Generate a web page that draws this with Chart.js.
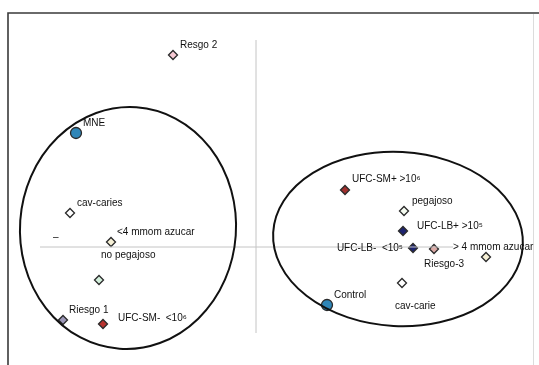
<!DOCTYPE html>
<html>
<head>
<meta charset="utf-8">
<script src="https://cdn.jsdelivr.net/npm/chart.js@4/dist/chart.umd.min.js"></script>
<style>
  html, body { margin: 0; padding: 0; background: #fff; }
  #wrap { position: relative; width: 539px; height: 365px; }
</style>
</head>
<body>
<div id="wrap"><canvas id="c" width="539" height="365"></canvas></div>
<script>
const categories = [
  "Resgo 2", "MNE", "cav-caries", "<4 mmom azucar", "no pegajoso",
  "Riesgo 1", "UFC-SM-  <10\u2076", "UFC-SM+ >10\u2076", "pegajoso",
  "UFC-LB+ >10\u2075", "UFC-LB-  <10\u2075", "Riesgo-3", "> 4 mmom azucar",
  "cav-carie", "Control"
];
const dim1 = [-0.83, -1.80, -1.86, -1.45, -1.57, -1.93, -1.53, 0.89, 1.48, 1.47, 1.57, 1.78, 2.30, 1.46, 0.71];
const dim2 = [ 1.92,  1.14,  0.34,  0.05, -0.33, -0.73, -0.77, 0.57, 0.36, 0.16, -0.01, -0.02, -0.10, -0.36, -0.58];

// axis reference lines (dim1 extent of horizontal axis, dim2 extent of vertical axis)
const axisXRange = [-2.16, 1.97];
const axisYRange = [-0.86, 2.07];

// group ellipses: centre, semi-axes, tilt (degrees)
const ellipseCx = [-1.28, 1.42];
const ellipseCy = [0.19, 0.08];
const ellipseRx = [1.08, 1.25];
const ellipseRy = [1.21, 0.87];
const ellipseTilt = [4, 3];

// ---- Styles ----
const fills = ["#f6c9d3", "#2f86b8", "#ffffff", "#f6f0d6", "#d3f0dc", "#9d98b9", "#b8322e",
               "#a0302e", "#f4fbf0", "#1d2470", "#1d2470", "#dcaaa6", "#f6f0d6", "#ffffff", "#2f86b8"];
const shapes = ["rectRot", "circle", "rectRot", "rectRot", "rectRot", "rectRot", "rectRot",
                "rectRot", "rectRot", "rectRot", "rectRot", "rectRot", "rectRot", "rectRot", "circle"];
const radii = shapes.map(s => s === "circle" ? 5.5 : 4.5);
// label offsets in px: [dx, dy, align]
const labelOffsets = [
  [7, -10, "left"], [7, -10, "left"], [7, -10, "left"], [6, -10, "left"], [2, -25, "left"],
  [6, -10, "left"], [15, -6, "left"], [7, -11, "left"], [8, -10, "left"],
  [14, -5, "left"], [-10, 0, "right"], [-10, 15, "left"], [-33, -10, "left"],
  [-7, 23, "left"], [7, -10, "left"]
];

const points = dim1.map((x, i) => ({ x: x, y: dim2[i] }));

const framePlugin = {
  id: 'frame',
  beforeDraw(chart) {
    const ctx = chart.ctx;
    ctx.save();
    ctx.fillStyle = '#fff';
    ctx.fillRect(0, 0, chart.width, chart.height);
    ctx.strokeStyle = '#dcdcdc';
    ctx.lineWidth = 1;
    ctx.beginPath(); ctx.moveTo(533.5, 14); ctx.lineTo(533.5, 365); ctx.stroke();
    ctx.strokeStyle = '#3a3a3a';
    ctx.lineWidth = 1.6;
    ctx.beginPath();
    ctx.moveTo(8, 365); ctx.lineTo(8, 13); ctx.lineTo(539, 13);
    ctx.stroke();
    ctx.restore();
  }
};

const ellipsePlugin = {
  id: 'ellipses',
  afterDatasetsDraw(chart) {
    const ctx = chart.ctx, xs = chart.scales.x, ys = chart.scales.y;
    ctx.save();
    ctx.strokeStyle = '#111';
    ctx.lineWidth = 2;
    for (let i = 0; i < ellipseCx.length; i++) {
      const cx = xs.getPixelForValue(ellipseCx[i]);
      const cy = ys.getPixelForValue(ellipseCy[i]);
      const rx = Math.abs(xs.getPixelForValue(ellipseCx[i] + ellipseRx[i]) - cx);
      const ry = Math.abs(ys.getPixelForValue(ellipseCy[i] + ellipseRy[i]) - cy);
      ctx.beginPath();
      ctx.ellipse(cx, cy, rx, ry, ellipseTilt[i] * Math.PI / 180, 0, Math.PI * 2);
      ctx.stroke();
    }
    ctx.restore();
  }
};

const labelPlugin = {
  id: 'pointLabels',
  afterDraw(chart) {
    const ctx = chart.ctx;
    const meta = chart.getDatasetMeta(2);
    ctx.save();
    ctx.font = '10px "Liberation Sans", Arial, sans-serif';
    ctx.fillStyle = '#111';
    ctx.textBaseline = 'middle';
    meta.data.forEach((el, i) => {
      const o = labelOffsets[i];
      ctx.textAlign = o[2];
      ctx.fillText(categories[i], el.x + o[0], el.y + o[1]);
    });
    // small dash mark left of the horizontal axis
    const xs = chart.scales.x, ys = chart.scales.y;
    ctx.textAlign = 'left';
    ctx.fillText('\u2013', xs.getPixelForValue(-2.03), ys.getPixelForValue(0.10));
    ctx.restore();
  }
};

new Chart(document.getElementById('c'), {
  type: 'scatter',
  data: {
    datasets: [
      {
        type: 'line',
        data: [{ x: axisXRange[0], y: 0 }, { x: axisXRange[1], y: 0 }],
        borderColor: '#c4c4c4', borderWidth: 1, pointRadius: 0, fill: false
      },
      {
        type: 'line',
        data: [{ x: 0, y: axisYRange[0] }, { x: 0, y: axisYRange[1] }],
        borderColor: '#c4c4c4', borderWidth: 1, pointRadius: 0, fill: false
      },
      {
        data: points,
        pointStyle: shapes,
        pointRadius: radii,
        pointHoverRadius: radii,
        backgroundColor: fills,
        borderColor: '#2a2a2a',
        borderWidth: 1.3
      }
    ]
  },
  options: {
    responsive: false,
    animation: false,
    devicePixelRatio: 1,
    layout: { padding: 0, autoPadding: false },
    plugins: { legend: { display: false }, tooltip: { enabled: false } },
    scales: {
      x: { type: 'linear', min: -2.56, max: 2.83, display: false },
      y: { type: 'linear', min: -1.18, max: 2.47, display: false }
    }
  },
  plugins: [framePlugin, ellipsePlugin, labelPlugin]
});
</script>
</body>
</html>
